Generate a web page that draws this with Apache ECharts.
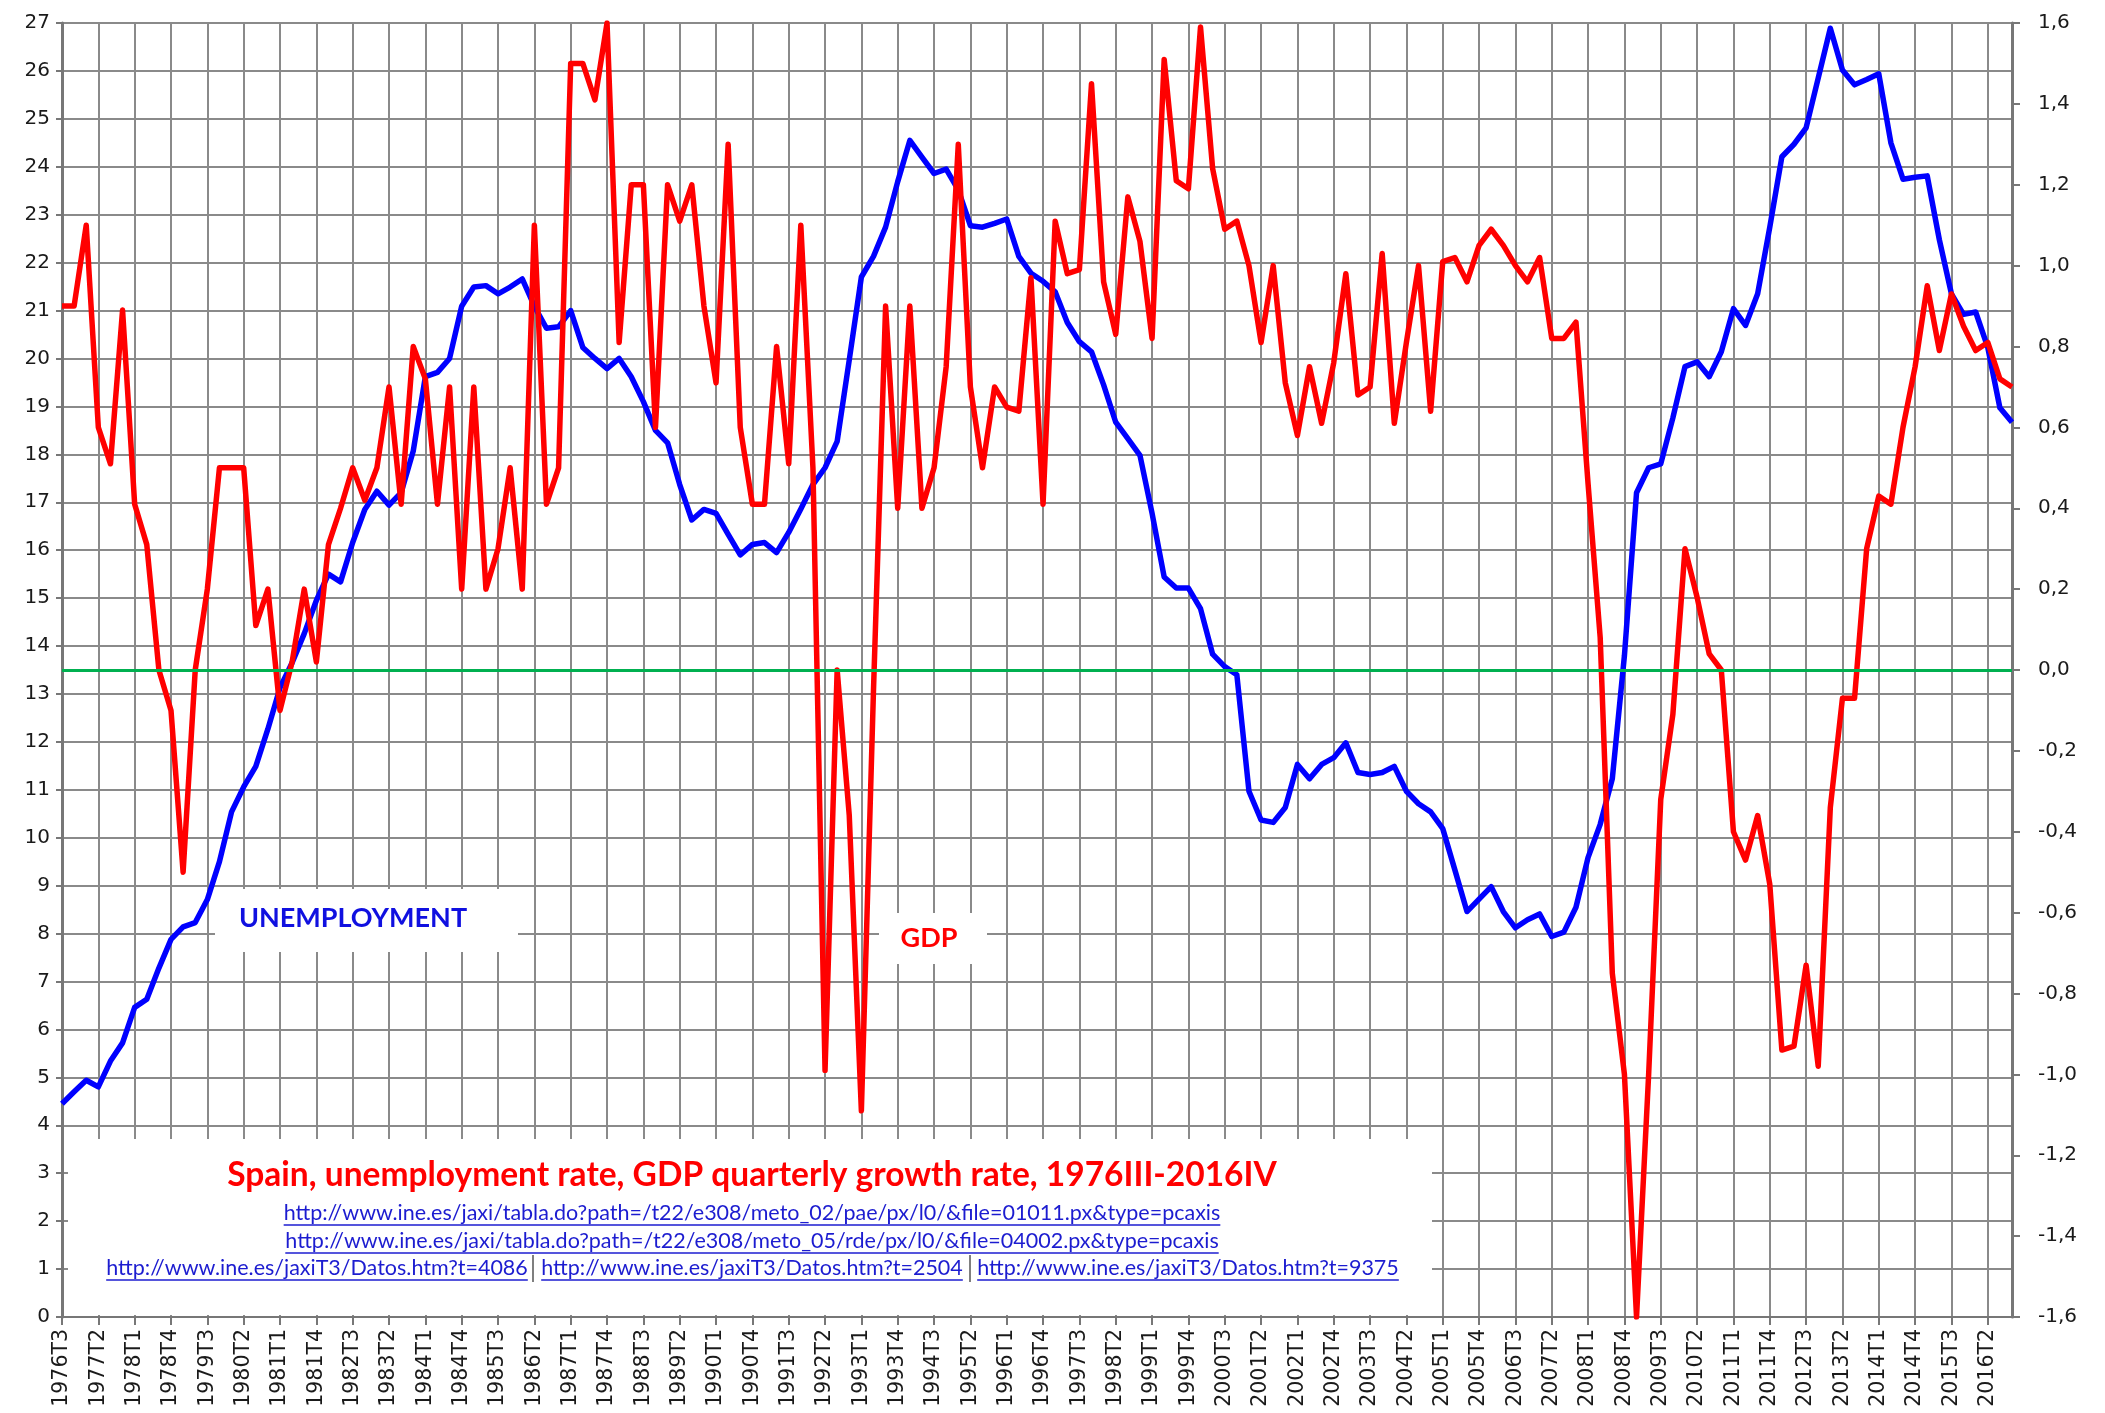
<!DOCTYPE html>
<html>
<head>
<meta charset="utf-8">
<script src="https://cdn.jsdelivr.net/npm/echarts@6/dist/echarts.min.js"></script>
<style>
html,body{margin:0;padding:0;background:#fff;}
#main{width:2105px;height:1413px;}
</style>
</head>
<body>
<div id="main"></div>
<script>
// trimestres 1976T3 ... 2016T4
var quarters = [];
for (var yr = 1976; yr <= 2016; yr++) {
	for (var q = 1; q <= 4; q++) {
		if (yr == 1976 && q < 3) continue;
		quarters.push(yr + 'T' + q);
	}
}

// tasa de paro (%), eje izquierdo
var unemployment = [
	4.45, 4.7, 4.94, 4.8, 5.34, 5.72, 6.46, 6.63, 7.28, 7.88,
	8.14, 8.23, 8.71, 9.5, 10.54, 11.06, 11.49, 12.27, 13.13, 13.65,
	14.26, 14.95, 15.5, 15.34, 16.16, 16.85, 17.23, 16.94, 17.2, 18.07,
	19.62, 19.71, 20.0, 21.09, 21.49, 21.52, 21.35, 21.49, 21.66, 21.09,
	20.63, 20.66, 21.0, 20.23, 20.0, 19.79, 20.0, 19.62, 19.1, 18.5,
	18.24, 17.37, 16.63, 16.85, 16.77, 16.33, 15.9, 16.12, 16.16, 15.95,
	16.37, 16.86, 17.37, 17.72, 18.27, 19.97, 21.7, 22.13, 22.74, 23.69,
	24.55, 24.2, 23.86, 23.95, 23.52, 22.77, 22.74, 22.82, 22.91, 22.13,
	21.78, 21.61, 21.39, 20.75, 20.35, 20.14, 19.45, 18.67, 18.33, 17.98,
	16.77, 15.44, 15.21, 15.21, 14.78, 13.83, 13.57, 13.4, 10.97, 10.37,
	10.32, 10.63, 11.53, 11.23, 11.53, 11.67, 11.98, 11.36, 11.32, 11.36,
	11.49, 10.97, 10.71, 10.54, 10.19, 9.33, 8.46, 8.72, 8.98, 8.46,
	8.12, 8.29, 8.41, 7.94, 8.03, 8.55, 9.59, 10.28, 11.23, 13.8,
	17.2, 17.72, 17.8, 18.76, 19.83, 19.93, 19.62, 20.14, 21.04, 20.69,
	21.35, 22.74, 24.21, 24.47, 24.81, 25.85, 26.89, 26.02, 25.71, 25.82,
	25.94, 24.5, 23.74, 23.78, 23.81, 22.48, 21.35, 20.92, 20.97, 20.23,
	18.97, 18.67
];

// PIB, tasa de variacion trimestral (%), eje derecho
var gdp = [
	0.9, 0.9, 1.1, 0.6, 0.51, 0.89, 0.41, 0.31, 0.0, -0.1,
	-0.5, 0.0, 0.2, 0.5, 0.5, 0.5, 0.11, 0.2, -0.1, 0.02,
	0.2, 0.02, 0.31, 0.4, 0.5, 0.42, 0.5, 0.7, 0.41, 0.8,
	0.72, 0.41, 0.7, 0.2, 0.7, 0.2, 0.3, 0.5, 0.2, 1.1,
	0.41, 0.5, 1.5, 1.5, 1.41, 1.6, 0.81, 1.2, 1.2, 0.6,
	1.2, 1.11, 1.2, 0.9, 0.71, 1.3, 0.6, 0.41, 0.41, 0.8,
	0.51, 1.1, 0.5, -0.99, 0.0, -0.36, -1.09, -0.05, 0.9, 0.4,
	0.9, 0.4, 0.5, 0.75, 1.3, 0.7, 0.5, 0.7, 0.65, 0.64,
	0.97, 0.41, 1.11, 0.98, 0.99, 1.45, 0.96, 0.83, 1.17, 1.06,
	0.82, 1.51, 1.21, 1.19, 1.59, 1.24, 1.09, 1.11, 1.0, 0.81,
	1.0, 0.71, 0.58, 0.75, 0.61, 0.76, 0.98, 0.68, 0.7, 1.03,
	0.61, 0.81, 1.0, 0.64, 1.01, 1.02, 0.96, 1.05, 1.09, 1.05,
	1.0, 0.96, 1.02, 0.82, 0.82, 0.86, 0.46, 0.08, -0.75, -1.0,
	-1.6, -1.0, -0.32, -0.11, 0.3, 0.18, 0.04, 0.0, -0.4, -0.47,
	-0.36, -0.53, -0.94, -0.93, -0.73, -0.98, -0.34, -0.07, -0.07, 0.3,
	0.43, 0.41, 0.6, 0.75, 0.95, 0.79, 0.93, 0.85, 0.79, 0.81,
	0.72, 0.7
];

var titleText = 'Spain, unemployment rate, GDP quarterly growth rate, 1976III-2016IV';
var links = [
	'http://www.ine.es/jaxi/tabla.do?path=/t22/e308/meto_02/pae/px/l0/&file=01011.px&type=pcaxis',
	'http://www.ine.es/jaxi/tabla.do?path=/t22/e308/meto_05/rde/px/l0/&file=04002.px&type=pcaxis',
	'http://www.ine.es/jaxiT3/Datos.htm?t=4086',
	'http://www.ine.es/jaxiT3/Datos.htm?t=2504',
	'http://www.ine.es/jaxiT3/Datos.htm?t=9375'
];

var gridColor = '#8a8a8a';
var linkColor = '#1c1cd0';
var linkSize = 21.5;

//medir texto para subrayar los enlaces
var ctx = document.createElement('canvas').getContext('2d');
function textW(str, size, weight) {
	ctx.font = (weight || 'normal') + ' ' + size + 'px Lato';
	return ctx.measureText(str).width;
}

var graphics = [
	// caja blanca del texto
	{ type: 'rect', z: 10, shape: { x: 68, y: 1139, width: 1364, height: 176 }, style: { fill: '#fff' } },
	{ type: 'rect', z: 10, shape: { x: 215, y: 889, width: 303, height: 63 }, style: { fill: '#fff' } },
	{ type: 'rect', z: 10, shape: { x: 879, y: 913, width: 108, height: 51 }, style: { fill: '#fff' } },
	{ type: 'text', z: 11, x: 353, y: 918, style: { text: 'UNEMPLOYMENT', fill: '#1010e0', fontSize: 27, fontWeight: 'bold', fontFamily: 'Lato', align: 'center', verticalAlign: 'middle' } },
	{ type: 'text', z: 11, x: 929, y: 938, style: { text: 'GDP', fill: '#ff0000', fontSize: 27, fontWeight: 'bold', fontFamily: 'Lato', align: 'center', verticalAlign: 'middle' } },
	{ type: 'text', z: 11, x: 752, y: 1175, style: { text: titleText, fill: '#ff0000', fontSize: 33.5, fontWeight: 'bold', fontFamily: 'Lato', align: 'center', verticalAlign: 'middle' } }
];

var linkPos = [
	[752, 1213], [752, 1241],
	[317, 1268], [752, 1268], [1188, 1268]
];
for (var i = 0; i < links.length; i++) {
	var cx = linkPos[i][0], cy = linkPos[i][1];
	var w = textW(links[i], linkSize);
	graphics.push({ type: 'text', z: 11, x: cx, y: cy, style: { text: links[i], fill: linkColor, fontSize: linkSize, fontFamily: 'Lato', align: 'center', verticalAlign: 'middle' } });
	graphics.push({ type: 'line', z: 11, shape: { x1: cx - w / 2, y1: cy + 12, x2: cx + w / 2, y2: cy + 12 }, style: { stroke: linkColor, lineWidth: 1.5 } });
}
// separadores
graphics.push({ type: 'line', z: 11, shape: { x1: 533, y1: 1255, x2: 533, y2: 1282 }, style: { stroke: '#555', lineWidth: 1.5 } });
graphics.push({ type: 'line', z: 11, shape: { x1: 970, y1: 1255, x2: 970, y2: 1282 }, style: { stroke: '#555', lineWidth: 1.5 } });

var myChart = echarts.init(document.getElementById('main'));
var option = {
	animation: false,
	backgroundColor: '#fff',
	grid: { left: 62, top: 23, width: 1950, height: 1294 },
	xAxis: {
		type: 'category',
		data: quarters,
		boundaryGap: false,
		axisLine: { lineStyle: { color: '#777', width: 2 } },
		axisTick: { interval: 2, length: 8, lineStyle: { color: '#777', width: 2 } },
		axisLabel: { interval: 2, rotate: 90, margin: 12, fontSize: 20.5, fontFamily: 'DejaVu Sans', color: '#1a1a1a' },
		splitLine: { show: true, interval: 2, lineStyle: { color: gridColor, width: 2 } }
	},
	yAxis: [
		{
			type: 'value', min: 0, max: 27, interval: 1,
			axisLine: { show: true, lineStyle: { color: '#777', width: 3 } },
			axisTick: { show: true, length: 6, lineStyle: { color: '#777', width: 2 } },
			axisLabel: { margin: 12, fontSize: 20, fontFamily: 'DejaVu Sans', color: '#1a1a1a' },
			splitLine: { lineStyle: { color: gridColor, width: 2 } }
		},
		{
			type: 'value', min: -1.6, max: 1.6, interval: 0.2, position: 'right',
			axisLine: { show: true, lineStyle: { color: '#777', width: 3 } },
			axisTick: { show: true, length: 8, lineStyle: { color: '#777', width: 2 } },
			axisLabel: {
				margin: 26, fontSize: 20, fontFamily: 'DejaVu Sans', color: '#1a1a1a',
				formatter: function (v) { return v.toFixed(1).replace('.', ','); }
			},
			splitLine: { show: false }
		}
	],
	series: [
		{
			// linea verde del cero
			name: 'cero', type: 'line', yAxisIndex: 1, data: [], z: 1, silent: true,
			markLine: {
				symbol: 'none', silent: true, label: { show: false },
				lineStyle: { color: '#00b050', width: 3, type: 'solid' },
				data: [{ yAxis: 0 }]
			}
		},
		{
			name: 'UNEMPLOYMENT', type: 'line', yAxisIndex: 0, data: unemployment, z: 2,
			symbol: 'none', lineStyle: { color: '#0000ff', width: 5.5, join: 'round' }
		},
		{
			name: 'GDP', type: 'line', yAxisIndex: 1, data: gdp, z: 3,
			symbol: 'none', lineStyle: { color: '#ff0000', width: 5.5, join: 'round' }
		}
	],
	graphic: graphics
};
myChart.setOption(option);
</script>
</body>
</html>
